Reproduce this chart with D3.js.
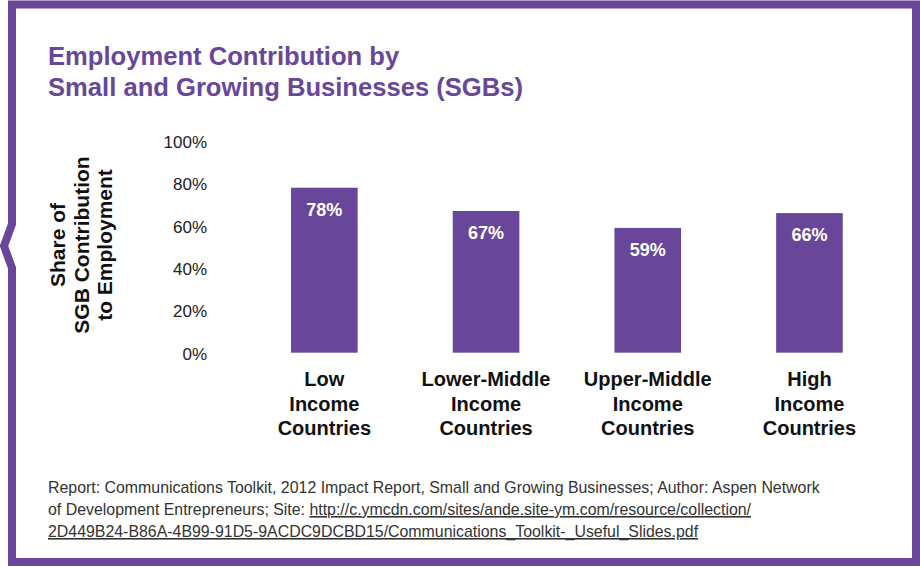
<!DOCTYPE html>
<html>
<head>
<meta charset="utf-8">
<script src="https://cdn.jsdelivr.net/npm/d3@7"></script>
<style>
  html, body { margin: 0; padding: 0; background: #fff; }
  svg { display: block; }
  text { font-family: "Liberation Sans", Arial, sans-serif; }
</style>
</head>
<body>
<svg id="chart" width="920" height="567"></svg>
<script>
const categories = ["Low Income Countries", "Lower-Middle Income Countries", "Upper-Middle Income Countries", "High Income Countries"]
const values = [78, 67, 59, 66]
const tickValues = [0, 20, 40, 60, 80, 100]
const titleLines = ["Employment Contribution by", "Small and Growing Businesses (SGBs)"]
const yLabelLines = ["Share of", "SGB Contribution", "to Employment"]
const sourceLines = [
  [["Report: Communications Toolkit, 2012 Impact Report, Small and Growing Businesses; Author: Aspen Network", false]],
  [["of Development Entrepreneurs; Site: ", false], ["http://c.ymcdn.com/sites/ande.site-ym.com/resource/collection/", true]],
  [["2D449B24-B86A-4B99-91D5-9ACDC9DCBD15/Communications_Toolkit-_Useful_Slides.pdf", true]]
]

const purple = "#68479a"
const svg = d3.select("#chart")

// frame with the little notch on the left side
//
svg.append("path")
  .attr("d", "M12,4.5 H916 V562 H12 V268 L4,246 L12,224 Z")
  .attr("fill", "none")
  .attr("stroke", purple)
  .attr("stroke-width", 8)

// title
//
svg.append("text")
  .attr("x", 48)
  .attr("y", 65)
  .attr("fill", purple)
  .attr("font-size", 25.6)
  .attr("font-weight", "bold")
  .selectAll("tspan")
  .data(titleLines)
  .join("tspan")
  .attr("x", 48)
  .attr("dy", (d, i) => i === 0 ? 0 : 31)
  .text(d => d)

const x = d3.scaleBand()
  .domain(categories)
  .range([243.5, 890.3])
  .paddingInner(0.588)
  .paddingOuter(0.294)

const y = d3.scaleLinear().domain([0, 100]).range([352.7, 141.2])

// y axis labels only, no line and no ticks
//
const yAxis = svg.append("g")
  .attr("transform", "translate(207,1)")
  .call(d3.axisLeft(y).tickValues(tickValues).tickFormat(d => d + "%").tickSize(0).tickPadding(0))
yAxis.select(".domain").remove()
yAxis.selectAll("text")
  .attr("font-family", "\"Liberation Sans\", Arial, sans-serif")
  .attr("font-size", 17)
  .attr("fill", "#222")

// rotated axis title
//
svg.append("text")
  .attr("transform", "translate(0,245) rotate(-90)")
  .attr("text-anchor", "middle")
  .attr("font-size", 21)
  .attr("font-weight", "bold")
  .attr("fill", "#111")
  .selectAll("tspan")
  .data(yLabelLines)
  .join("tspan")
  .attr("x", 0)
  .attr("y", (d, i) => 65 + i * 23.5)
  .text(d => d)

// bars
//
svg.append("g")
  .selectAll("rect")
  .data(values)
  .join("rect")
  .attr("x", (d, i) => x(categories[i]))
  .attr("y", d => y(d))
  .attr("width", x.bandwidth())
  .attr("height", d => y(0) - y(d))
  .attr("fill", purple)

svg.append("g")
  .selectAll("text")
  .data(values)
  .join("text")
  .attr("x", (d, i) => x(categories[i]) + x.bandwidth() / 2)
  .attr("y", d => y(d) + 22)
  .attr("dy", "0.35em")
  .attr("text-anchor", "middle")
  .attr("font-size", 18)
  .attr("font-weight", "bold")
  .attr("fill", "#fff")
  .text(d => d + "%")

// category labels, one word per line
//
svg.append("g")
  .selectAll("text")
  .data(categories)
  .join("text")
  .attr("text-anchor", "middle")
  .attr("font-size", 20)
  .attr("font-weight", "bold")
  .attr("fill", "#111")
  .each(function (d) {
    const cx = x(d) + x.bandwidth() / 2
    d3.select(this).selectAll("tspan")
      .data(d.split(" "))
      .join("tspan")
      .attr("x", cx)
      .attr("y", (w, i) => 386 + i * 24.5)
      .text(w => w)
  })

// source note
//
svg.append("g")
  .selectAll("text")
  .data(sourceLines)
  .join("text")
  .attr("x", 48)
  .attr("y", (d, i) => 493 + i * 22)
  .attr("font-size", 15.9)
  .attr("fill", "#333")
  .each(function (parts) {
    d3.select(this).selectAll("tspan")
      .data(parts)
      .join("tspan")
      .style("text-decoration", p => p[1] ? "underline" : "none")
      .text(p => p[0])
  })
</script>
</body>
</html>
